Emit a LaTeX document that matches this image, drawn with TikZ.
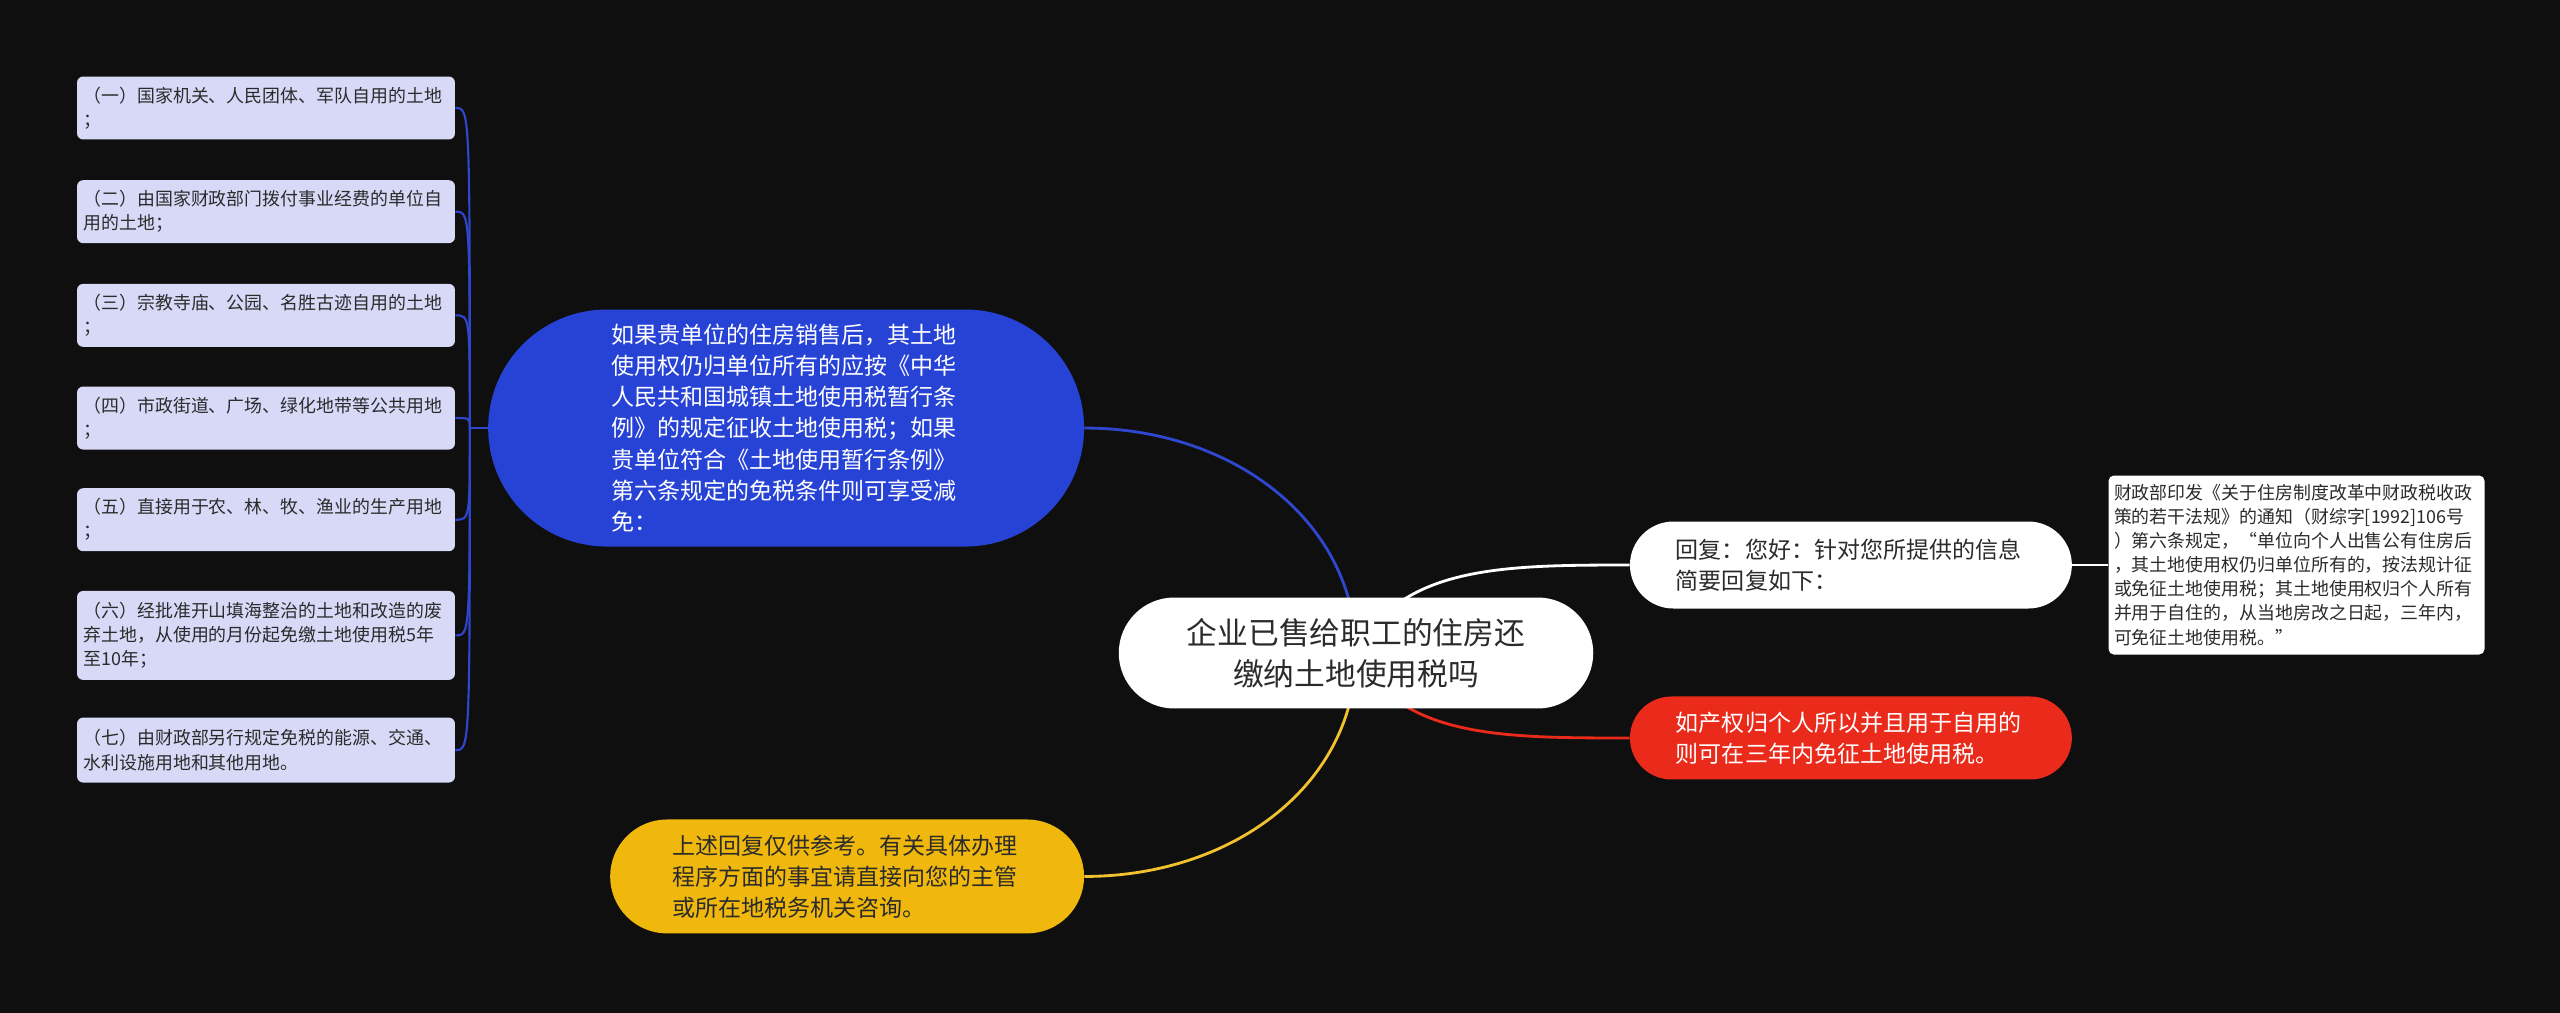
\documentclass[tikz,border=0pt]{standalone}
\usepackage{fontspec}
\setmainfont{Noto Sans CJK SC}
\usetikzlibrary{positioning, calc, shapes.misc, backgrounds}
\definecolor{mmBg}{HTML}{0F0F10}
\definecolor{mmBlue}{HTML}{2743D6}
\definecolor{mmBlueLine}{HTML}{2F47CF}
\definecolor{mmLeaf}{HTML}{D7D9F7}
\definecolor{mmRed}{HTML}{EA2A1B}
\definecolor{mmYellow}{HTML}{F0B80D}
\definecolor{mmYellowLine}{HTML}{F2C12E}
\definecolor{mmInk}{HTML}{2B2B2B}
\newcommand{\smallcn}{\fontsize{10.2}{13.7}\selectfont}
\newcommand{\midcn}{\fontsize{13.1}{17.7}\selectfont}
\newcommand{\bigcn}{\fontsize{17.5}{23.3}\selectfont}

\begin{document}
\begin{tikzpicture}[x=0.02cm,y=-0.02cm,leaf/.style={rectangle, fill=mmLeaf, rounded corners=3.5pt, inner xsep=0.13cm, text width=7.3cm, minimum height=1.26cm, align=left, text=mmInk, font=\smallcn},pill/.style={rounded rectangle, inner sep=0pt, text width=7.0cm, align=left, font=\midcn},trunk/.style={line width=1.6pt},twig/.style={line width=1.2pt, color=mmBlueLine}]
\useasboundingbox (0,0) rectangle (2560,1013);
\node[pill, fill=white, text=mmInk, font=\bigcn, text width=9cm, align=center, minimum width=9.44cm, minimum height=2.22cm] (ctr) at (1356,653) {企业已售给职工的住房还\\缴纳土地使用税吗};
\node[pill, fill=mmBlue, text=white, minimum width=11.92cm, minimum height=4.74cm, left=0.68cm of ctr, yshift=4.5cm] (blue) {如果贵单位的住房销售后，其土地\\使用权仍归单位所有的应按《中华\\人民共和国城镇土地使用税暂行条\\例》的规定征收土地使用税；如果\\贵单位符合《土地使用暂行条例》\\第六条规定的免税条件则可享受减\\免：};
\node[pill, fill=mmYellow, text=mmInk, minimum width=9.48cm, minimum height=2.28cm, left=0.68cm of ctr, yshift=-4.47cm] (yellow) {上述回复仅供参考。有关具体办理\\程序方面的事宜请直接向您的主管\\或所在地税务机关咨询。};
\node[pill, fill=white, text=mmInk, minimum width=8.84cm, minimum height=1.74cm, right=0.72cm of ctr, yshift=1.76cm] (reply) {回复：您好：针对您所提供的信息\\简要回复如下：};
\node[pill, fill=mmRed, text=white, minimum width=8.84cm, minimum height=1.66cm, right=0.72cm of ctr, yshift=-1.7cm] (red) {如产权归个人所以并且用于自用的\\则可在三年内免征土地使用税。};
\node[leaf, fill=white, rounded corners=3pt, inner xsep=0.11cm, minimum height=3.58cm, right=0.72cm of reply] (note) {财政部印发《关于住房制度改革中财政税收政\\策的若干法规》的通知（财综字[1992]106号\\）第六条规定，“单位向个人出售公有住房后\\，其土地使用权仍归单位所有的，按法规计征\\或免征土地使用税；其土地使用权归个人所有\\并用于自住的，从当地房改之日起，三年内，\\可免征土地使用税。”};
% left column
\node[leaf] (lf1) at (266,108) {（一）国家机关、人民团体、军队自用的土地\\；};
\node[leaf, below=0.8cm of lf1] (lf2) {（二）由国家财政部门拨付事业经费的单位自\\用的土地；};
\node[leaf, below=0.8cm of lf2] (lf3) {（三）宗教寺庙、公园、名胜古迹自用的土地\\；};
\node[leaf, below=0.78cm of lf3] (lf4) {（四）市政街道、广场、绿化地带等公共用地\\；};
\node[leaf, below=0.76cm of lf4] (lf5) {（五）直接用于农、林、牧、渔业的生产用地\\；};
\node[leaf, below=0.78cm of lf5, minimum height=1.78cm] (lf6) {（六）经批准开山填海整治的土地和改造的废\\弃土地，从使用的月份起免缴土地使用税5年\\至10年；};
\node[leaf, below=0.74cm of lf6, minimum height=1.3cm] (lf7) {（七）由财政部另行规定免税的能源、交通、\\水利设施用地和其他用地。};
\coordinate (jn) at ($(blue.west)+(-18,0)$);
\begin{scope}[on background layer]
\fill[mmBg] (0,0) rectangle (2560,1013);
\draw[trunk, mmBlueLine] (ctr.center) .. controls +(0,-130) and +(150,0) .. (blue.east);
\draw[trunk, mmYellowLine] (ctr.center) .. controls +(0,130) and +(150,0) .. (yellow.east);
\draw[trunk, white] (ctr.center) .. controls +(44,-87) and +(-128,0) .. (reply.west);
\draw[trunk, mmRed] (ctr.center) .. controls +(44,85) and +(-128,0) .. (red.west);
\draw[twig, white] (reply.east) -- (note.west);
\draw[twig] (blue.west) -- (jn);
\foreach \b in {lf1,lf2,lf3,lf4,lf5,lf6,lf7}
  \draw[twig] (jn) .. controls (jn |- \b.east) .. (\b.east);
\end{scope}
\end{tikzpicture}
\end{document}
